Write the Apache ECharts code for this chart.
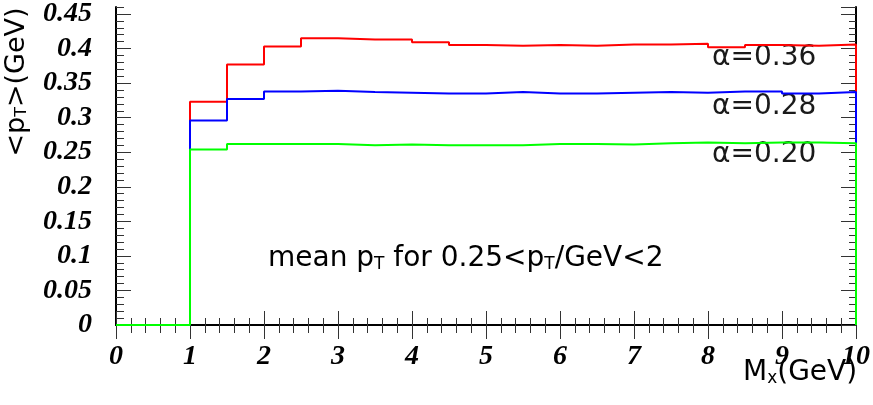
<!DOCTYPE html>
<html><head><meta charset="utf-8">
<script src="https://cdn.jsdelivr.net/npm/echarts@6/dist/echarts.min.js"></script>
<style>html,body{margin:0;padding:0;background:#fff}#c{width:873px;height:405px}</style>
</head><body><div id="c"></div>
<script>
// bin edges (GeV), bin width 0.5
const binEdges = [0, 0.5, 1, 1.5, 2, 2.5, 3, 3.5, 4, 4.5, 5, 5.5, 6, 6.5, 7, 7.5, 8, 8.5, 9, 9.5, 10];
// mean pT per bin for each alpha
const redValues   = [0, 0, 0.323, 0.377, 0.403, 0.415, 0.413, 0.413, 0.409, 0.405, 0.404, 0.405, 0.404, 0.406, 0.406, 0.407, 0.402, 0.405, 0.404, 0.406];
const blueValues  = [0, 0, 0.296, 0.327, 0.338, 0.339, 0.337, 0.336, 0.335, 0.335, 0.337, 0.335, 0.335, 0.336, 0.337, 0.336, 0.338, 0.338, 0.335, 0.337];
const greenValues = [0, 0, 0.254, 0.262, 0.262, 0.262, 0.260, 0.261, 0.260, 0.260, 0.260, 0.262, 0.262, 0.261, 0.263, 0.264, 0.263, 0.264, 0.264, 0.263];
const seriesNames = ['α=0.36', 'α=0.28', 'α=0.20'];
const xTicks = [0, 1, 2, 3, 4, 5, 6, 7, 8, 9, 10];
const yTicks = [0, 0.05, 0.1, 0.15, 0.2, 0.25, 0.3, 0.35, 0.4, 0.45];

function stepLine(vals) {
  const pts = [[binEdges[0], 0]];
  vals.forEach((v, i) => { pts.push([binEdges[i], v]); pts.push([binEdges[i + 1], v]); });
  pts.push([binEdges[binEdges.length - 1], 0]);
  return pts;
}

const labelFont = { fontFamily: 'Liberation Serif', fontWeight: 'bold', fontStyle: 'italic', fontSize: 28, color: '#000' };
const tickCol = '#333';
const axisLine = { show: true, lineStyle: { color: '#000', width: 2 } };
const sans = 'DejaVu Sans';
const txtCol = '#1a1a1a';

const chart = echarts.init(document.getElementById('c'), null, { renderer: 'canvas' });
chart.setOption({
  animation: false,
  backgroundColor: '#fff',
  grid: { left: 116, right: 14, top: 4, bottom: 80, containLabel: false },
  xAxis: [
    { type: 'value', position: 'bottom', min: xTicks[0], max: xTicks[xTicks.length - 1], interval: 1,
      axisLine: axisLine, splitLine: { show: false },
      axisTick: { inside: true, length: 14, lineStyle: { color: tickCol, width: 1 } },
      minorTick: { show: true, splitNumber: 5, length: 7, lineStyle: { color: tickCol, width: 1 } },
      axisLabel: Object.assign({ margin: 18 }, labelFont) },
    { type: 'value', position: 'top', min: xTicks[0], max: xTicks[xTicks.length - 1], interval: 1,
      axisLine: axisLine, splitLine: { show: false },
      axisTick: { inside: true, length: 14, lineStyle: { color: tickCol, width: 1 } },
      minorTick: { show: true, splitNumber: 5, length: 8, lineStyle: { color: tickCol, width: 1 } },
      axisLabel: { show: false } }
  ],
  yAxis: [
    { type: 'value', position: 'left', offset: 0, min: 0, max: 0.46, interval: 0.05,
      axisLine: axisLine, splitLine: { show: false },
      axisTick: { inside: true, length: 15, lineStyle: { color: tickCol, width: 1 } },
      axisLabel: Object.assign({ margin: 24, showMaxLabel: false,
        formatter: v => { const t = yTicks.find(y => Math.abs(y - v) < 1e-6); return t === undefined ? '' : String(t); } }, labelFont) },
    { type: 'value', position: 'left', offset: 0, min: 0, max: 0.46, interval: 0.01,
      axisLine: { show: false }, splitLine: { show: false },
      axisTick: { inside: true, length: 8, lineStyle: { color: tickCol, width: 1 } },
      axisLabel: { show: false } },
    { type: 'value', position: 'right', offset: 0, min: 0, max: 0.46, interval: 0.05,
      axisLine: axisLine, splitLine: { show: false },
      axisTick: { inside: true, length: 15, lineStyle: { color: tickCol, width: 1 } },
      axisLabel: { show: false } },
    { type: 'value', position: 'right', offset: 0, min: 0, max: 0.46, interval: 0.01,
      axisLine: { show: false }, splitLine: { show: false },
      axisTick: { inside: true, length: 7, lineStyle: { color: tickCol, width: 1 } },
      axisLabel: { show: false } }
  ],
  series: [
    { name: seriesNames[0], type: 'line', data: stepLine(redValues), symbol: 'none', clip: false,
      lineStyle: { color: '#ff0000', width: 2 }, z: 3 },
    { name: seriesNames[1], type: 'line', data: stepLine(blueValues), symbol: 'none', clip: false,
      lineStyle: { color: '#0000ff', width: 2 }, z: 4 },
    { name: seriesNames[2], type: 'line', data: stepLine(greenValues), symbol: 'none', clip: false,
      lineStyle: { color: '#00ff00', width: 2 }, z: 5 }
  ],
  graphic: [
    { type: 'text', x: 712, y: 58, style: { text: seriesNames[0], font: '28px "DejaVu Sans"', fill: txtCol, textVerticalAlign: 'middle' } },
    { type: 'text', x: 712, y: 107, style: { text: seriesNames[1], font: '28px "DejaVu Sans"', fill: txtCol, textVerticalAlign: 'middle' } },
    { type: 'text', x: 712, y: 155, style: { text: seriesNames[2], font: '28px "DejaVu Sans"', fill: txtCol, textVerticalAlign: 'middle' } },
    { type: 'text', x: 268, y: 258, style: {
        text: '{m|mean p}{s|T}{m| for 0.25<p}{s|T}{m|/GeV<2}', textVerticalAlign: 'middle',
        rich: { m: { fontFamily: sans, fontSize: 28, color: txtCol, verticalAlign: 'bottom', lineHeight: 30 },
                s: { fontFamily: sans, fontSize: 17, color: txtCol, verticalAlign: 'bottom', lineHeight: 30 } } } },
    { type: 'text', x: 743, y: 372, style: {
        text: '{m|M}{s|x}{m|(GeV)}', textVerticalAlign: 'middle',
        rich: { m: { fontFamily: sans, fontSize: 28, color: txtCol, verticalAlign: 'bottom', lineHeight: 30 },
                s: { fontFamily: sans, fontSize: 17, color: txtCol, verticalAlign: 'bottom', lineHeight: 30 } } } },
    { type: 'text', x: 15, y: 82, rotation: Math.PI / 2, style: {
        text: '{m|<p}{s|T}{m|>(GeV)}', textAlign: 'center', textVerticalAlign: 'middle',
        rich: { m: { fontFamily: sans, fontSize: 27, color: txtCol, verticalAlign: 'bottom', lineHeight: 30 },
                s: { fontFamily: sans, fontSize: 16, color: txtCol, verticalAlign: 'bottom', lineHeight: 30 } } } }
  ]
});
</script>
</body></html>
